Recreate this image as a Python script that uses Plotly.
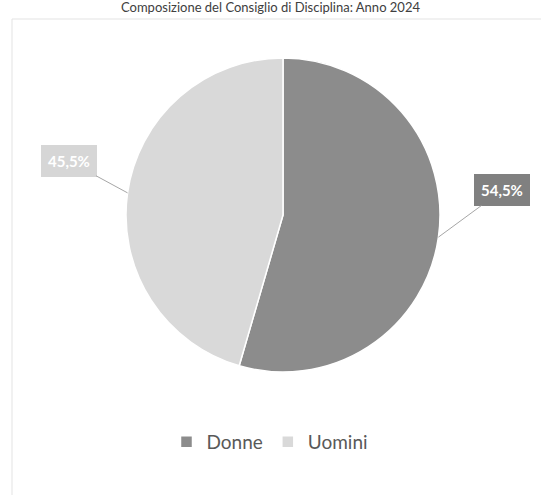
import math
import plotly.graph_objects as go

labels = ["Donne", "Uomini"]
values = [54.5, 45.5]
label_texts = ["54,5%", "45,5%"]
colors = ["#8c8c8c", "#d9d9d9"]
box_colors = ["#808080", "#d6d6d6"]
title_text = "Composizione del Consiglio di Disciplina: Anno 2024"

W, H = 541, 495
cx, cy, r = 283, 215, 157

fig = go.Figure(go.Pie(
    labels=labels, values=values, sort=False, direction="clockwise", rotation=0,
    marker=dict(colors=colors, line=dict(color="white", width=1.5)),
    textinfo="none", hoverinfo="label+percent",
    domain=dict(x=[(cx - r) / W, (cx + r) / W], y=[1 - (cy + r) / H, 1 - (cy - r) / H]),
))

# label callouts computed from slice mid-angles
offsets = [(64, -47), (-59, -32)]
total = sum(values)
cum = 0
for i, v in enumerate(values):
    mid = (cum + v / 2) / total * 2 * math.pi
    cum += v
    px = cx + r * math.sin(mid)
    py = cy - r * math.cos(mid)
    fig.add_annotation(
        x=px / W, y=1 - py / H, xref="paper", yref="paper",
        text="<b>" + label_texts[i] + "</b>", showarrow=True, arrowhead=0,
        arrowcolor="#a6a6a6", arrowwidth=1, ax=offsets[i][0], ay=offsets[i][1],
        bgcolor=box_colors[i], bordercolor=box_colors[i], borderpad=6,
        font=dict(color="white", size=15, family="Lato"),
    )

# chart-area frame (top and left edges visible)
fig.add_shape(type="line", xref="paper", yref="paper", x0=12 / W, x1=1,
              y0=1 - 19 / H, y1=1 - 19 / H, line=dict(color="#e3e3e3", width=1), layer="below")
fig.add_shape(type="line", xref="paper", yref="paper", x0=12 / W, x1=12 / W,
              y0=0, y1=1 - 19 / H, line=dict(color="#e3e3e3", width=1), layer="below")

fig.update_layout(
    width=W, height=H, margin=dict(l=0, r=0, t=0, b=0),
    paper_bgcolor="white", plot_bgcolor="white",
    title=dict(text=title_text, x=0.5, xanchor="center",
               y=1, yref="container", yanchor="top", pad=dict(t=3, b=0),
               font=dict(size=13, color="#404040", family="Lato")),
    showlegend=True,
    legend=dict(orientation="h", x=270 / W, xanchor="center", y=1 - 442 / H, yanchor="middle",
                font=dict(size=19, color="#595959", family="Lato"), itemwidth=30),
)

fig.write_html("out.html", config={"displayModeBar": False},
               post_script="document.body.style.margin='0';")
